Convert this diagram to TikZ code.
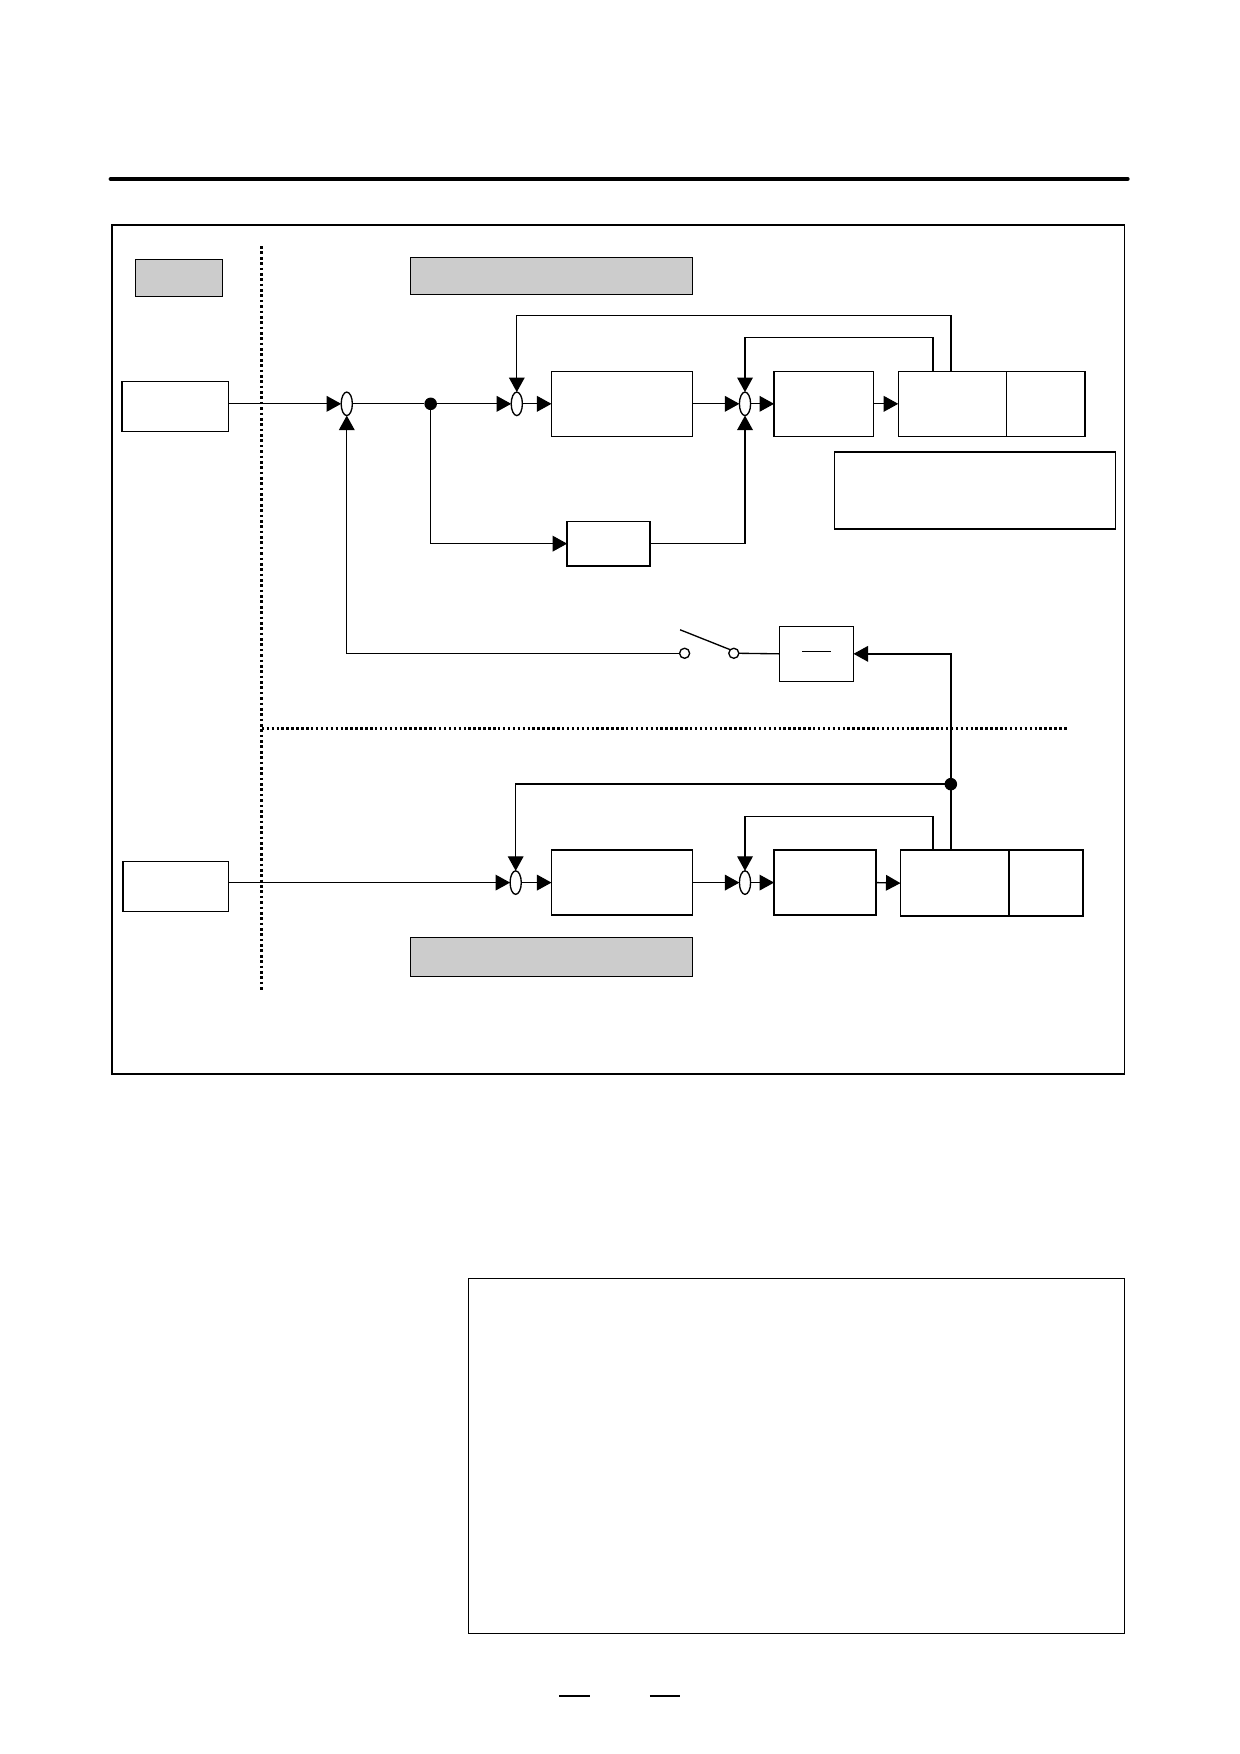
\documentclass[tikz,border=0pt]{standalone}
\usetikzlibrary{arrows.meta,shapes.geometric,fit}
\definecolor{boxgray}{HTML}{CCCCCC}
\tikzset{
  every node/.style={inner sep=0pt, outer sep=0pt},
  box/.style={draw, line width=0.6pt, fill=white, inner sep=0pt},
  graybox/.style={draw, line width=0.6pt, fill=boxgray, inner sep=0pt},
  sumnode/.style={draw, ellipse, line width=0.6pt, fill=white, minimum width=5pt, minimum height=10.5pt},
  jdot/.style={circle, fill=black, minimum size=5.6pt},
  contact/.style={draw, circle, line width=0.6pt, fill=white, minimum size=4.5pt},
  conn/.style={line width=0.6pt},
  arr/.style={conn, -{Triangle[length=6.5pt,width=7pt]}},
  dotline/.style={line width=1.3pt, dash pattern=on 1.2pt off 1.2pt},
  dotlineh/.style={line width=1.2pt, dash pattern=on 1.1pt off 1.1pt}
}
\begin{document}
\begin{tikzpicture}[x=0.5pt,y=-0.5pt]
\useasboundingbox (0,0) rectangle (1108,1568);
% header rule
\draw[line width=1.9pt, line cap=round] (99,160) -- (1008,160);
% outer frames
\node[draw, line width=0.6pt, fit={(100,201)(1005,960)}] (frameA) {};
\node[draw, line width=0.6pt, fit={(419,1143)(1005,1460)}] (frameB) {};
% dotted separators
\draw[dotline] (234,220) -- (234,885);
\draw[dotlineh] (234,651) -- (955,651);
% gray label boxes
\node[graybox, fit={(121,232)(199,265)}] (gA) {};
\node[graybox, fit={(367,230)(619,263)}] (gB) {};
\node[graybox, fit={(367,838)(619,873)}] (gC) {};
% upper loop
\node[box, fit={(109,341)(204,386)}] (in1) {};
\node[sumnode] (s1) at (310,361) {};
\node[jdot] (j1) at (385,361) {};
\node[sumnode] (s2) at (462,361) {};
\node[box, fit={(493,332)(619,390)}] (p1) {};
\node[sumnode] (s3) at (666,361) {};
\node[box, fit={(692,332)(781,390)}] (p2) {};
\node[box, fit={(803,332)(900,390)}] (p3) {};
\node[box, fit={(900,332)(970,390)}] (p3b) {};
\node[box, fit={(746,404)(997,473)}] (note) {};
\node[box, fit={(507,466)(581,506)}] (ff) {};
\coordinate (f1) at (850,332);
\coordinate (f2) at (834,332);
\draw[arr] (in1.east |- s1) -- (s1.west);
\draw[conn] (s1.east) -- (j1);
\draw[arr] (j1) -- (s2.west);
\draw[arr] (s2.east) -- (p1.west);
\draw[arr] (p1.east) -- (s3.west);
\draw[arr] (s3.east) -- (p2.west);
\draw[arr] (p2.east) -- (p3.west);
\draw[arr] (f1) -- (850,282) -| (s2.north);
\draw[arr] (f2) -- (834,302) -| (s3.north);
\draw[arr] (j1) |- (ff.west);
\draw[arr] (ff.east) -| (s3.south);
% switch and limiter
\node[contact] (sw1) at (612,584) {};
\node[contact] (sw2) at (656,584) {};
\coordinate (blade) at (608,563);
\draw[conn] (blade) -- (sw2.north west);
\node[box, fit={(697,560)(763,609)}] (d) {};
\draw[conn] (717,582.5) -- (743,582.5);
\draw[arr] (sw1.west) -| (s1.south);
\draw[conn] (sw2.east) -- (d.west);
% lower loop
\node[jdot] (j2) at (850,701) {};
\node[box, fit={(110,770)(204,815)}] (in2) {};
\node[sumnode] (s4) at (461,789) {};
\node[box, fit={(493,760)(619,818)}] (q1) {};
\node[sumnode] (s5) at (666,789) {};
\node[box, fit={(692,760)(783,818)}] (q2) {};
\node[box, fit={(805,760)(902,819)}] (q3) {};
\node[box, fit={(902,760)(968,819)}] (q3b) {};
\coordinate (g1) at (850,760);
\coordinate (g2) at (834,760);
\draw[arr] (j2) |- (d.east);
\draw[conn] (g1) -- (j2);
\draw[arr] (j2) -| (s4.north);
\draw[arr] (in2.east |- s4) -- (s4.west);
\draw[arr] (s4.east) -- (q1.west);
\draw[arr] (q1.east) -- (s5.west);
\draw[arr] (s5.east) -- (q2.west);
\draw[arr] (q2.east) -- (q3.west);
\draw[arr] (g2) -- (834,730) -| (s5.north);
% footer marks
\draw[line width=1pt] (500,1516) -- (527,1516);
\draw[line width=1pt] (581,1516) -- (608,1516);
\end{tikzpicture}
\end{document}
